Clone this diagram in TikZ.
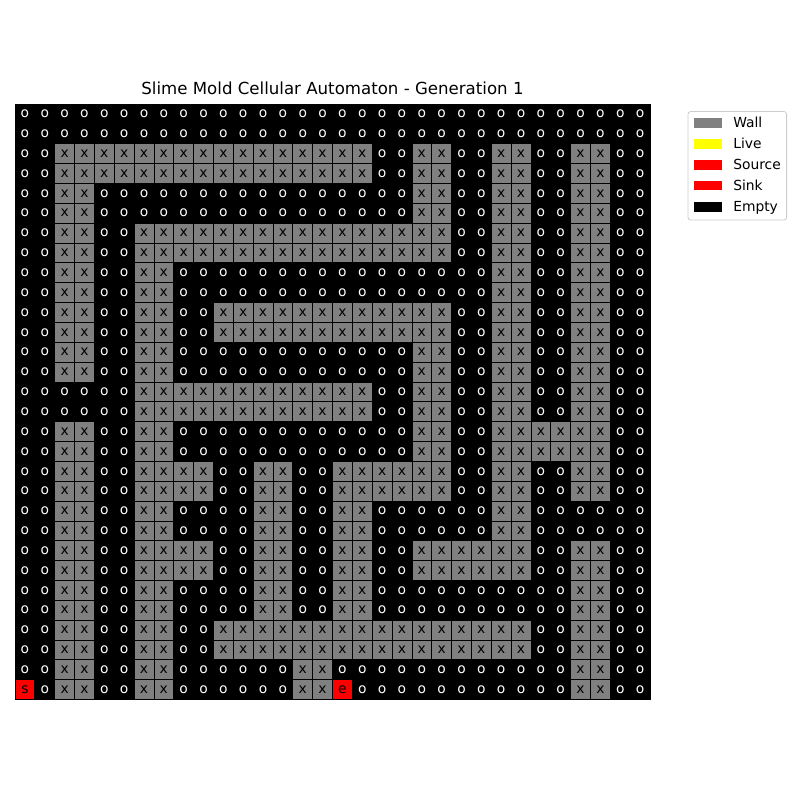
\documentclass[tikz,border=0pt]{standalone}
\usepackage{fontspec}
\setmainfont{DejaVu Sans}
\definecolor{colo}{RGB}{0,0,0}
\definecolor{colx}{RGB}{128,128,128}
\definecolor{cols}{RGB}{255,0,0}
\definecolor{cole}{RGB}{255,0,0}
\definecolor{txto}{RGB}{255,255,255}
\definecolor{txtx}{RGB}{0,0,0}
\definecolor{txts}{RGB}{0,0,0}
\definecolor{txte}{RGB}{0,0,0}
\definecolor{gridc}{RGB}{0,0,0}
\definecolor{legc}{RGB}{204,204,204}
\definecolor{liveyellow}{RGB}{255,255,0}
\begin{document}
\begin{tikzpicture}[x=0.01in,y=-0.01in,
  cell/.style={minimum width=0.19844in, minimum height=0.1985in, inner sep=0pt, outer sep=0pt, font=\fontsize{10}{12}\selectfont},
  gridline/.style={draw=gridc, line width=0.5pt},
  legframe/.style={draw=legc, fill=white, rounded corners=2pt, line width=0.6pt, minimum width=0.985in, minimum height=1.085in, inner sep=0pt},
  patch/.style={minimum width=0.28in, minimum height=0.097in, inner sep=0pt},
  legtext/.style={anchor=base west, inner sep=0pt, font=\fontsize{10}{12}\selectfont}]
\useasboundingbox (0,0) rectangle (800,800);
\fill[white] (0,0) rectangle (800,800);
\foreach \rowdata [count=\r from 0] in {
{o,o,o,o,o,o,o,o,o,o,o,o,o,o,o,o,o,o,o,o,o,o,o,o,o,o,o,o,o,o,o,o},
{o,o,o,o,o,o,o,o,o,o,o,o,o,o,o,o,o,o,o,o,o,o,o,o,o,o,o,o,o,o,o,o},
{o,o,x,x,x,x,x,x,x,x,x,x,x,x,x,x,x,x,o,o,x,x,o,o,x,x,o,o,x,x,o,o},
{o,o,x,x,x,x,x,x,x,x,x,x,x,x,x,x,x,x,o,o,x,x,o,o,x,x,o,o,x,x,o,o},
{o,o,x,x,o,o,o,o,o,o,o,o,o,o,o,o,o,o,o,o,x,x,o,o,x,x,o,o,x,x,o,o},
{o,o,x,x,o,o,o,o,o,o,o,o,o,o,o,o,o,o,o,o,x,x,o,o,x,x,o,o,x,x,o,o},
{o,o,x,x,o,o,x,x,x,x,x,x,x,x,x,x,x,x,x,x,x,x,o,o,x,x,o,o,x,x,o,o},
{o,o,x,x,o,o,x,x,x,x,x,x,x,x,x,x,x,x,x,x,x,x,o,o,x,x,o,o,x,x,o,o},
{o,o,x,x,o,o,x,x,o,o,o,o,o,o,o,o,o,o,o,o,o,o,o,o,x,x,o,o,x,x,o,o},
{o,o,x,x,o,o,x,x,o,o,o,o,o,o,o,o,o,o,o,o,o,o,o,o,x,x,o,o,x,x,o,o},
{o,o,x,x,o,o,x,x,o,o,x,x,x,x,x,x,x,x,x,x,x,x,o,o,x,x,o,o,x,x,o,o},
{o,o,x,x,o,o,x,x,o,o,x,x,x,x,x,x,x,x,x,x,x,x,o,o,x,x,o,o,x,x,o,o},
{o,o,x,x,o,o,x,x,o,o,o,o,o,o,o,o,o,o,o,o,x,x,o,o,x,x,o,o,x,x,o,o},
{o,o,x,x,o,o,x,x,o,o,o,o,o,o,o,o,o,o,o,o,x,x,o,o,x,x,o,o,x,x,o,o},
{o,o,o,o,o,o,x,x,x,x,x,x,x,x,x,x,x,x,o,o,x,x,o,o,x,x,o,o,x,x,o,o},
{o,o,o,o,o,o,x,x,x,x,x,x,x,x,x,x,x,x,o,o,x,x,o,o,x,x,o,o,x,x,o,o},
{o,o,x,x,o,o,x,x,o,o,o,o,o,o,o,o,o,o,o,o,x,x,o,o,x,x,x,x,x,x,o,o},
{o,o,x,x,o,o,x,x,o,o,o,o,o,o,o,o,o,o,o,o,x,x,o,o,x,x,x,x,x,x,o,o},
{o,o,x,x,o,o,x,x,x,x,o,o,x,x,o,o,x,x,x,x,x,x,o,o,x,x,o,o,x,x,o,o},
{o,o,x,x,o,o,x,x,x,x,o,o,x,x,o,o,x,x,x,x,x,x,o,o,x,x,o,o,x,x,o,o},
{o,o,x,x,o,o,x,x,o,o,o,o,x,x,o,o,x,x,o,o,o,o,o,o,x,x,o,o,o,o,o,o},
{o,o,x,x,o,o,x,x,o,o,o,o,x,x,o,o,x,x,o,o,o,o,o,o,x,x,o,o,o,o,o,o},
{o,o,x,x,o,o,x,x,x,x,o,o,x,x,o,o,x,x,o,o,x,x,x,x,x,x,o,o,x,x,o,o},
{o,o,x,x,o,o,x,x,x,x,o,o,x,x,o,o,x,x,o,o,x,x,x,x,x,x,o,o,x,x,o,o},
{o,o,x,x,o,o,x,x,o,o,o,o,x,x,o,o,x,x,o,o,o,o,o,o,o,o,o,o,x,x,o,o},
{o,o,x,x,o,o,x,x,o,o,o,o,x,x,o,o,x,x,o,o,o,o,o,o,o,o,o,o,x,x,o,o},
{o,o,x,x,o,o,x,x,o,o,x,x,x,x,x,x,x,x,x,x,x,x,x,x,x,x,o,o,x,x,o,o},
{o,o,x,x,o,o,x,x,o,o,x,x,x,x,x,x,x,x,x,x,x,x,x,x,x,x,o,o,x,x,o,o},
{o,o,x,x,o,o,x,x,o,o,o,o,o,o,x,x,o,o,o,o,o,o,o,o,o,o,o,o,x,x,o,o},
{s,o,x,x,o,o,x,x,o,o,o,o,o,o,x,x,e,o,o,o,o,o,o,o,o,o,o,o,x,x,o,o}}{
  \foreach \c [count=\k from 0] in \rowdata {
    \node[cell, fill=col\c, text=txt\c] (c-\r-\k) at ({15+19.844*(\k+0.5)},{104+19.85*(\r+0.5)}) {\c};
  }
}
% grid lines
\foreach \i in {0,...,32} {
  \draw[gridline] ({15+19.844*\i},104) -- ({15+19.844*\i},699.5);
}
\foreach \j in {0,...,30} {
  \draw[gridline] (15,{104+19.85*\j}) -- (650,{104+19.85*\j});
}
% title
\node[anchor=base, inner sep=0pt, font=\fontsize{12}{14}\selectfont] (title) at (332.5,95) {Slime Mold Cellular Automaton - Generation 1};
% legend
\node[legframe] (legend) at (737.3,165.8) {};
\node[patch, fill=colx] (p1) at (708,122.7) {};
\node[patch, fill=liveyellow] (p2) at (708,143.9) {};
\node[patch, fill=cols] (p3) at (708,164.9) {};
\node[patch, fill=cole] (p4) at (708,185.6) {};
\node[patch, fill=colo] (p5) at (708,206.7) {};
\node[legtext] (l1) at (733,127.3) {Wall};
\node[legtext] (l2) at (733,148.5) {Live};
\node[legtext] (l3) at (733,169.5) {Source};
\node[legtext] (l4) at (733,190.2) {Sink};
\node[legtext] (l5) at (733,211.3) {Empty};
\end{tikzpicture}
\end{document}
